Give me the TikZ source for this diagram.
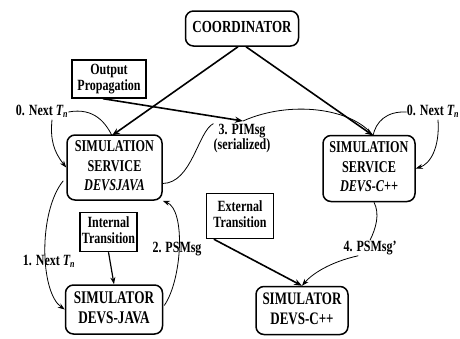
\documentclass[tikz,border=0pt]{standalone}
\usepackage{fontspec}
\usepackage{graphicx}
\setmainfont{Liberation Serif}
\usetikzlibrary{arrows.meta}
% tall centred block of lines
\newcommand{\tl}[2][1.35]{\scalebox{1}[#1]{\begin{tabular}{@{}c@{}}#2\end{tabular}}}
\begin{document}
\begin{tikzpicture}[x=1pt,y=-1pt,
  rbox/.style={draw,line width=1.5pt,rounded corners=8pt,inner sep=0pt,
    font=\fontsize{12.2}{14.4}\selectfont\bfseries},
  sbox/.style={draw,line width=1.4pt,inner sep=0pt,
    font=\fontsize{12}{12.4}\selectfont\bfseries},
  lbl/.style={inner sep=0pt,font=\fontsize{12}{11.6}\selectfont\bfseries},
  heavy/.style={line width=1.6pt,-{Stealth[length=8pt,width=6pt]}},
  thin/.style={line width=0.8pt},
  thinarr/.style={line width=0.8pt,-{Stealth[length=7pt,width=5pt]}}]
\useasboundingbox (0,0) rectangle (460,338);

% boxes
\node[rbox,minimum width=113,minimum height=35,font=\fontsize{13}{15}\selectfont\bfseries] (coord) at (242,28.5) {\tl[1.3]{COORDINATOR}};
\node[sbox,minimum width=74,minimum height=38] (op) at (109,79) {\tl[1.3]{Output\\Propagation}};
\node[rbox,minimum width=95,minimum height=65] (ssj) at (114.5,167.5) {\tl{SIMULATION\\SERVICE\\\textit{DEVSJAVA}}};
\node[sbox,minimum width=57,minimum height=39] (it) at (108.5,232) {\tl[1.3]{Internal\\Transition}};
\node[rbox,minimum width=97,minimum height=49,font=\fontsize{13.2}{14.6}\selectfont\bfseries] (simj) at (114,309.5) {\tl{SIMULATOR\\DEVS-JAVA}};
\node[rbox,minimum width=92,minimum height=66] (ssc) at (369,168.5) {\tl{SIMULATION\\SERVICE\\\textit{DEVS-C++}}};
\node[sbox,minimum width=67,minimum height=45] (et) at (240,216) {\tl[1.3]{External\\Transition}};
\node[rbox,minimum width=92,minimum height=48,font=\fontsize{13}{14.6}\selectfont\bfseries] (simc) at (302,310.5) {\tl{SIMULATOR\\DEVS-C++}};

% labels
\node[lbl] (l0) at (42,112) {\tl[1.3]{0. Next \textit{T\textsubscript{n}}}};
\node[lbl] (r0) at (433,112) {\tl[1.3]{0. Next \textit{T\textsubscript{n}}}};
\node[lbl] (l1) at (49,262) {\tl[1.3]{1. Next \textit{T\textsubscript{n}}}};
\node[lbl] (l2) at (177,249) {\tl[1.3]{2. PSMsg}};
\node[lbl] (l3) at (242,139) {\tl[1.3]{3. PIMsg\\(serialized)}};
\node[lbl] (l4) at (370,248) {\tl[1.3]{4. PSMsg'}};

% junction points
\coordinate (pim) at (243,121);
\coordinate (ssjtop) at (112,135.5);
\coordinate (ssctop) at (373,135.5);

% coordinator links
\draw[heavy] (coord.south) ++(-4,0) coordinate (c1) -- (ssjtop);
\draw[heavy] (coord.south) ++(4,0) coordinate (c2) -- (ssctop);

% output propagation and the PIMsg path
\draw[heavy] (op.south) ++(-6,0) coordinate (o1) -- (pim);
\draw[thin] (ssj.east) ++(0,16) coordinate (s1) .. controls (192,183) and (198,131) .. (l3.north west);
\draw[thin] (pim) .. controls (290,100) and (352,108) .. (ssctop);

% next time messages
\draw[thin] (l0.east) .. controls (95,107) and (106,124) .. (ssjtop);
\draw[thinarr] (l0.south) ++(10,0) coordinate (a1) .. controls (50,140) and (54,152) .. (ssj.west);
\draw[thin] (r0.west) .. controls (386,111) and (376,122) .. (ssctop);
\draw[thinarr] (r0.south) ++(5,0) coordinate (a2) .. controls (440,148) and (430,164) .. (ssc.east);

% internal cycle of the Java side
\draw[thinarr] (ssj.south west) ++(-3,-20) coordinate (a3) .. controls (38,212) and (40,292) .. (simj.west);
\draw[thinarr] (simj.east) ++(1,-4) coordinate (a4) .. controls (182,280) and (186,210) .. (ssj.south east);
\draw[line width=1.2pt,-{Stealth[length=7pt,width=5pt]}] (it.south) -- (simj.north);

% C++ side
\draw[heavy] (et.south west) ++(8,0) coordinate (e1) -- (simc.north);
\draw[thin] (ssc.south) ++(5,0) coordinate (a5) .. controls (380,214) and (376,228) .. (l4.north);
\draw[thinarr] (l4.south west) ++(15,0) coordinate (a6) .. controls (330,262) and (312,274) .. (simc.north);
\end{tikzpicture}
\end{document}
